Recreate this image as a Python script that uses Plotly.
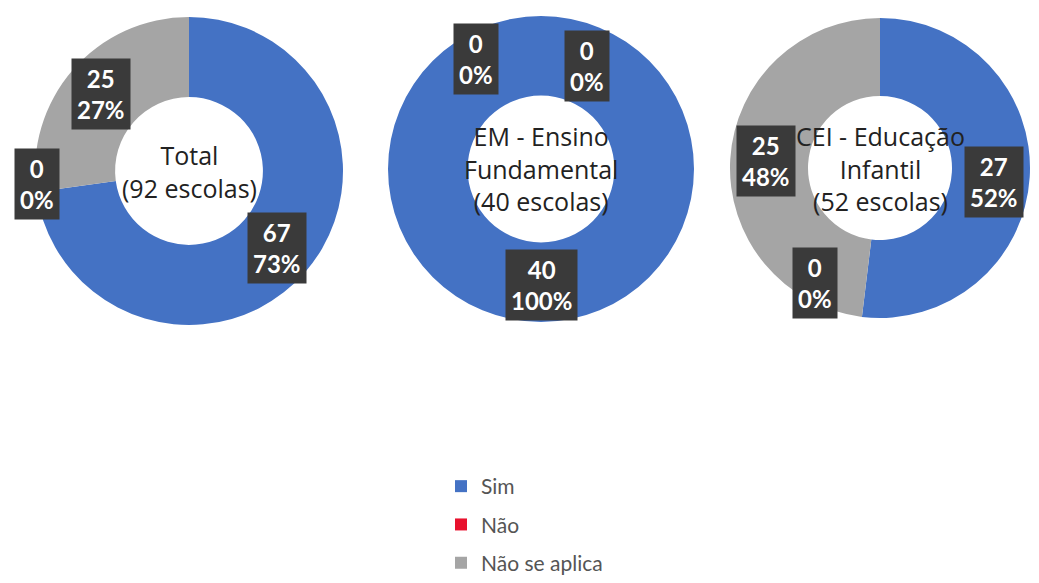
import math
import plotly.graph_objects as go

# data
categories = ['Sim', 'Não', 'Não se aplica']
colors = ['#4472C4', '#E8112D', '#A5A5A5']
pie_titles = ['Total<br>(92 escolas)',
              'EM - Ensino<br>Fundamental<br>(40 escolas)',
              'CEI - Educação<br>Infantil<br>(52 escolas)']
total_vals = [67, 0, 25]
em_vals = [40, 0, 0]
cei_vals = [27, 0, 25]
all_vals = [total_vals, em_vals, cei_vals]

# page body has an 8px margin, so work in screen pixels and shift
OFF = 8
FW, FH = 1039 - 2 * OFF, 583 - 2 * OFF


def px_x(sx):
    return min(1, max(0, (sx - OFF) / FW))


def px_y(sy):
    return min(1, max(0, 1 - (sy - OFF) / FH))


centers = [(189, 171), (541, 169), (880, 168)]   # screen centre of each donut
radii = [154, 153, 150]
# excel pushed some labels sideways, nudge them the same way (px)
nudges = {(0, 1): (-36, -3), (1, 1): (-65, 6), (1, 2): (46, 13),
          (2, 0): (0, 7), (2, 1): (-51, 2)}

fig = go.Figure()
annotations = []

for i, vals in enumerate(all_vals):
    cx, cy = centers[i]
    R = radii[i]
    fig.add_trace(go.Pie(
        labels=categories,
        values=vals,
        hole=0.48,
        sort=False,
        direction='clockwise',
        rotation=0,
        marker=dict(colors=colors, line=dict(width=0)),
        textinfo='none',
        hoverinfo='label+value+percent',
        showlegend=False,
        domain=dict(x=[px_x(cx - R), px_x(cx + R)],
                    y=[px_y(cy + R), px_y(cy - R)]),
    ))

    # centre text
    annotations.append(dict(
        x=px_x(cx), y=px_y(cy), xref='paper', yref='paper',
        xanchor='center', yanchor='middle',
        text=pie_titles[i], showarrow=False, align='center',
        font=dict(family='Open Sans', size=25, color='#222222')))

    # data labels: dark boxes at slice midpoints
    total = sum(vals)
    cum = 0
    for j, v in enumerate(vals):
        ang = math.radians((cum + v / 2) / total * 360)
        cum += v
        dx, dy = nudges.get((i, j), (0, 0))
        sx = cx + 0.76 * R * math.sin(ang) + dx
        sy = cy - 0.76 * R * math.cos(ang) + dy
        pct = round(v / total * 100)
        annotations.append(dict(
            x=px_x(sx), y=px_y(sy), xref='paper', yref='paper',
            xanchor='center', yanchor='middle',
            text=f'<b>{v}<br>{pct}%</b>', showarrow=False,
            font=dict(family='Lato', size=24, color='white'),
            bgcolor='#3a3a3a', borderpad=5, align='center'))

# legend entries (separate groups so the spacing can match)
for k, name in enumerate(categories):
    fig.add_trace(go.Scatter(
        x=[None], y=[None], mode='markers', name=name,
        marker=dict(symbol='square', size=12, color=colors[k]),
        legendgroup=name, showlegend=True))

fig.update_layout(
    width=FW, height=FH,
    margin=dict(l=0, r=0, t=0, b=0, autoexpand=False),
    paper_bgcolor='white', plot_bgcolor='white',
    xaxis=dict(visible=False), yaxis=dict(visible=False),
    annotations=annotations,
    legend=dict(x=px_x(441), y=px_y(466), xanchor='left', yanchor='top',
                tracegroupgap=8, itemwidth=30,
                font=dict(family='Lato', size=21, color='#555555')),
)

fig.write_html('out.html')
